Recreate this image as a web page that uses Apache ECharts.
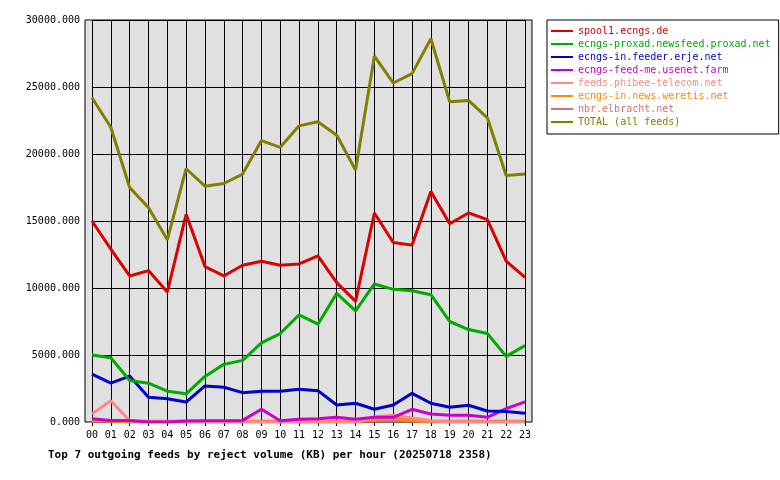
<!DOCTYPE html>
<html>
<head>
<meta charset="utf-8">
<script src="https://cdn.jsdelivr.net/npm/echarts@6/dist/echarts.min.js"></script>
<style>html,body{margin:0;background:#fff}#c{width:780px;height:480px}</style>
</head>
<body>
<div id="c"></div>
<script>
const hours = ["00","01","02","03","04","05","06","07","08","09","10","11","12","13","14","15","16","17","18","19","20","21","22","23"];
const spool1 = [15000,12900,10900,11300,9700,15500,11600,10900,11700,12000,11700,11800,12400,10400,9000,15600,13400,13200,17200,14800,15600,15100,12000,10800];
const proxad = [5000,4800,3100,2900,2300,2100,3400,4300,4600,5900,6600,8000,7300,9600,8300,10300,9900,9800,9500,7500,6900,6600,4900,5700];
const erje = [3580,2900,3430,1840,1740,1490,2690,2590,2190,2290,2290,2440,2340,1270,1400,950,1270,2140,1400,1100,1250,820,780,650];
const usenet = [250,120,120,0,0,80,100,100,120,950,100,200,250,350,200,350,350,950,600,500,500,350,1000,1500];
const phibee = [600,1590,100,0,0,0,0,0,0,0,0,0,0,0,0,400,500,300,100,0,0,0,0,0];
const weretis = [100,80,0,0,0,0,0,0,0,0,0,0,0,0,0,200,300,100,0,0,0,0,0,0];
const elbracht = [50,50,50,50,50,50,50,50,50,50,50,50,50,50,50,50,50,50,50,50,50,50,50,50];
const total = [24200,22000,17500,16000,13600,18900,17600,17800,18500,21000,20500,22100,22400,21400,18800,27300,25300,26000,28600,23900,24000,22700,18400,18500];

const names = ["spool1.ecngs.de","ecngs-proxad.newsfeed.proxad.net","ecngs-in.feeder.erje.net","ecngs-feed-me.usenet.farm","feeds.phibee-telecom.net","ecngs-in.news.weretis.net","nbr.elbracht.net","TOTAL (all feeds)"];
const colors = ["#dd0000","#00aa00","#0000cc","#cc00cc","#ff8888","#ff8800","#cc7777","#808000"];
const data = [spool1, proxad, erje, usenet, phibee, weretis, elbracht, total];
const font = "DejaVu Sans Mono";

const chart = echarts.init(document.getElementById("c"));
chart.setOption({
  animation: false,
  color: colors,
  textStyle: {fontFamily: font},
  graphic: [
    {type: "rect", z: -10, shape: {x: 85, y: 20, width: 447, height: 402}, style: {fill: "#e0e0e0", stroke: "#000", lineWidth: 1}}
  ],
  title: {
    text: "Top 7 outgoing feeds by reject volume (KB) per hour (20250718 2358)",
    left: 43, top: 445,
    textStyle: {fontFamily: font, fontSize: 11, fontWeight: "bold", color: "#000"}
  },
  legend: {
    orient: "vertical", left: 547, top: 20, width: 225,
    padding: [6, 8, 7, 4], itemGap: 3,
    borderColor: "#000", borderWidth: 1,
    itemWidth: 22, itemHeight: 2,
    icon: "rect",
    textStyle: {fontFamily: font, fontSize: 10},
    data: names.map((n, i) => ({name: n, textStyle: {color: colors[i]}, itemStyle: {color: colors[i]}}))
  },
  grid: {left: 92, top: 20, width: 433, height: 402},
  xAxis: {
    type: "category", data: hours, boundaryGap: false,
    axisLine: {show: false},
    axisTick: {show: true, length: 4, lineStyle: {color: "#000"}},
    axisLabel: {color: "#000", fontSize: 10, fontFamily: font, margin: 8},
    splitLine: {show: true, lineStyle: {color: "#000", width: 1}}
  },
  yAxis: {
    type: "value", min: 0, max: 30000, interval: 5000,
    axisLine: {show: false},
    axisTick: {show: false},
    axisLabel: {color: "#000", fontSize: 10, fontFamily: font, margin: 12, formatter: v => v.toFixed(3)},
    splitLine: {lineStyle: {color: "#000", width: 1}}
  },
  series: names.map((n, i) => ({
    name: n, type: "line", data: data[i], symbol: "none",
    lineStyle: {width: 3, color: colors[i]}, z: i === 7 ? 3 : 10 - i
  }))
});
</script>
</body>
</html>
